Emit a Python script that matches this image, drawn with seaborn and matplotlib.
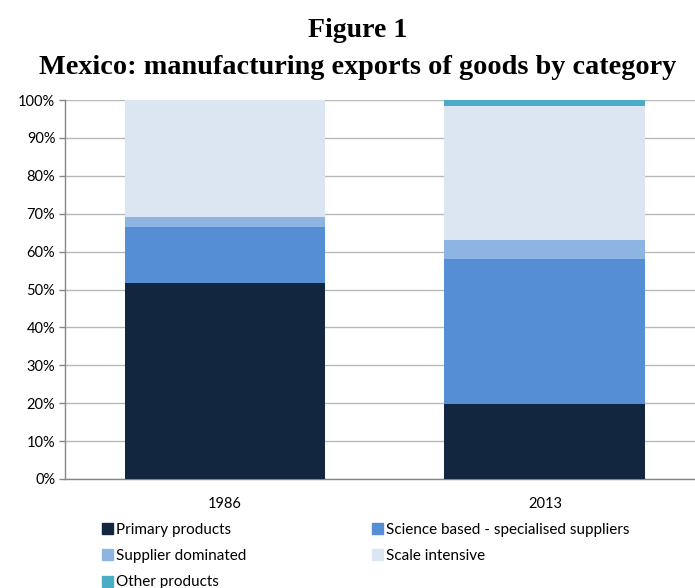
import matplotlib
matplotlib.use("Agg")
import matplotlib.pyplot as plt
import matplotlib.patches as mpatches
from matplotlib.ticker import PercentFormatter
import seaborn as sns
import pandas as pd

years = ["1986", "2013"]
categories = ["Primary products", "Science based - specialised suppliers",
              "Supplier dominated", "Scale intensive", "Other products"]
primary = [51.8, 19.7]
science = [14.8, 38.3]
supplier = [2.4, 5.1]
scale = [31.0, 35.4]
other = [0.0, 1.5]
colors = ["#13263F", "#558ED5", "#8EB4E3", "#DCE6F2", "#4BACC6"]
yticks = [0, 10, 20, 30, 40, 50, 60, 70, 80, 90, 100]

sns.set_theme(style="white")
plt.rcParams['font.family'] = ['Lato', 'DejaVu Sans']
plt.rcParams['text.color'] = 'black'

series = [primary, science, supplier, scale, other]
rows = []
for cat, vals in zip(categories, series):
    for y, v in zip(years, vals):
        rows.append({"year": y, "category": cat, "value": v})
df = pd.DataFrame(rows)
df["cum"] = df.groupby("year")["value"].cumsum()

fig = plt.figure(figsize=(6.95, 5.88), dpi=100)
ax = fig.add_axes([65/695, 1 - 479/588, 1 - 65/695, (479 - 100)/588])

# draw cumulative bars from the top segment down so each visible band is its own value
for cat, col in reversed(list(zip(categories, colors))):
    sub = df[df["category"] == cat]
    sns.barplot(data=sub, x="year", y="cum", color=col, width=0.628,
                saturation=1, ax=ax, linewidth=0, zorder=3, order=years)

ax.set_xlim(-0.5, 1.469)
ax.set_ylim(0, 100)
ax.set_yticks(yticks)
ax.yaxis.set_major_formatter(PercentFormatter(decimals=0))
ax.set_xlabel("")
ax.set_ylabel("")
ax.grid(axis="y", color="#B8B8B8", linewidth=1.0, zorder=0)
ax.set_axisbelow(True)
for s in ["top", "right"]:
    ax.spines[s].set_visible(False)
for s in ["left", "bottom"]:
    ax.spines[s].set_color("#868686")
    ax.spines[s].set_linewidth(1.0)
ax.tick_params(axis="y", left=True, length=4, width=1, color="#868686",
               labelsize=10.5, pad=3, labelcolor="#000000")
ax.tick_params(axis="x", bottom=False, labelsize=10.5, pad=7, labelcolor="#000000")

fig.text(358/695, 1 - 37/588, "Figure 1", ha="center", va="baseline", color="black",
         fontsize=20, fontweight="bold", family=["Liberation Serif"])
fig.text(358/695, 1 - 74/588, "Mexico: manufacturing exports of goods by category",
         ha="center", va="baseline", fontsize=20.3, fontweight="bold", color="black",
         family=["Liberation Serif"])

handles = [mpatches.Patch(color=c, label=l) for l, c in zip(categories, colors)]
order = [0, 2, 4, 1, 3]
leg = fig.legend([handles[i] for i in order], [categories[i] for i in order],
                 ncol=2, loc="upper left", bbox_to_anchor=(102/695, 1 - 523/588),
                 frameon=False, fontsize=11, handlelength=0.72, handleheight=0.72,
                 handletextpad=0.2, columnspacing=8.2, labelspacing=0.8,
                 borderaxespad=0, borderpad=0)
for t in leg.get_texts():
    t.set_color("black")

fig.savefig("out.png", dpi=100)
